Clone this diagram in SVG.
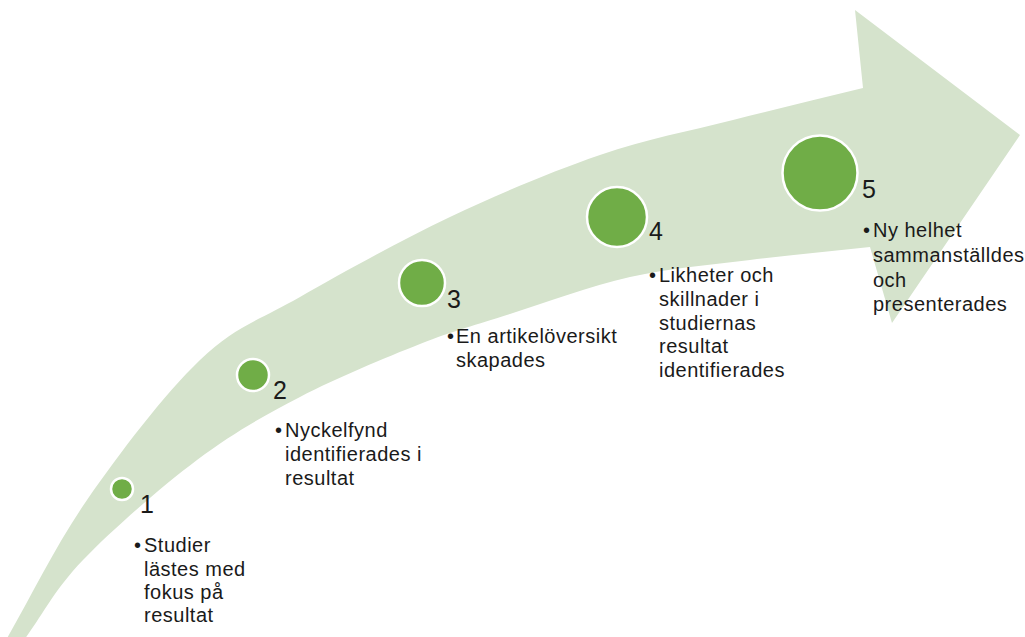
<svg xmlns="http://www.w3.org/2000/svg" width="1025" height="637" viewBox="0 0 1025 637">
  <style>
    .arrow { fill: #D5E3CC; }
    .dot { fill: #70AD47; stroke: #FFFFFF; stroke-width: 2.5; }
    .num { font-family: "Liberation Sans", Arial, sans-serif; font-size: 25px; fill: #1A1A1A; }
    .txt { font-family: "Liberation Sans", Arial, sans-serif; font-size: 20px; letter-spacing: 0.5px; fill: #1A1A1A; }
  </style>

  <!-- curved process arrow in the background -->
  <g id="process-arrow">
    <path class="arrow" d="M6,640 C33,593.3 54.7,546.7 87,500 C119.3,453.3 164.5,393.8 200,360 C235.5,326.2 258.3,320.8 300,297 C341.7,273.2 400,240.7 450,217 C500,193.3 552.8,171.2 600,155 C647.2,138.8 689.2,131.2 733,120 C776.8,108.8 819.7,98.7 863,88 L855,10 L1020,135 L892,323 L870,247 C830,251.3 790,255 750,260 C710,265 670,268 630,277 C590,286 545,302.8 510,314 C475,325.2 455,330.2 420,344 C385,357.8 337.2,377.7 300,397 C262.8,416.3 233.2,432.8 197,460 C160.8,487.2 111.8,530 83,560 C54.2,590 43.7,613.3 24,640 Z"/>
  </g>

  <!-- connectors: none beyond the arrow itself -->
  <g id="connectors"></g>

  <g id="step-1">
    <circle class="dot" cx="122" cy="489" r="11"/>
    <text class="num" x="140" y="513">1</text>
    <text class="txt"><tspan x="134" y="552">•</tspan><tspan x="144" y="552">Studier</tspan><tspan x="144" y="576">lästes med</tspan><tspan x="144" y="599">fokus på</tspan><tspan x="144" y="622">resultat</tspan></text>
  </g>

  <g id="step-2">
    <circle class="dot" cx="253" cy="375" r="16"/>
    <text class="num" x="273" y="399">2</text>
    <text class="txt"><tspan x="275" y="437">•</tspan><tspan x="285" y="437">Nyckelfynd</tspan><tspan x="285" y="461">identifierades i</tspan><tspan x="285" y="485">resultat</tspan></text>
  </g>

  <g id="step-3">
    <circle class="dot" cx="422" cy="283" r="23"/>
    <text class="num" x="447" y="308">3</text>
    <text class="txt"><tspan x="447" y="343">•</tspan><tspan x="456" y="343">En artikelöversikt</tspan><tspan x="456" y="367">skapades</tspan></text>
  </g>

  <g id="step-4">
    <circle class="dot" cx="617" cy="217" r="30"/>
    <text class="num" x="649" y="240">4</text>
    <text class="txt"><tspan x="649" y="282">•</tspan><tspan x="659" y="282">Likheter och</tspan><tspan x="659" y="306">skillnader i</tspan><tspan x="659" y="330">studiernas</tspan><tspan x="659" y="353">resultat</tspan><tspan x="659" y="377">identifierades</tspan></text>
  </g>

  <g id="step-5">
    <circle class="dot" cx="820" cy="173" r="37.5"/>
    <text class="num" x="862" y="198">5</text>
    <text class="txt"><tspan x="863" y="237">•</tspan><tspan x="873" y="237">Ny helhet</tspan><tspan x="873" y="262">sammanställdes</tspan><tspan x="873" y="287">och</tspan><tspan x="873" y="311">presenterades</tspan></text>
  </g>
</svg>
